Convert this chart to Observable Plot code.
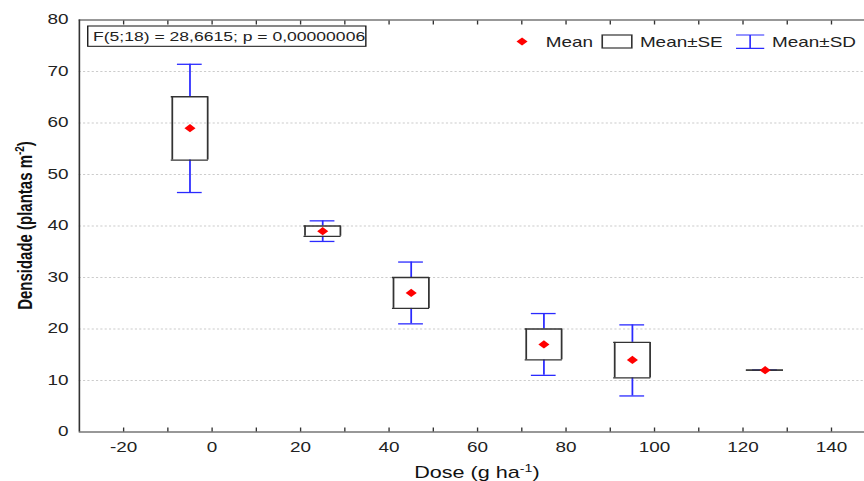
<!DOCTYPE html>
<html><head><meta charset="utf-8">
<script src="https://cdn.jsdelivr.net/npm/d3@7"></script>
<script src="https://cdn.jsdelivr.net/npm/@observablehq/plot@0.6"></script>
<style>html,body{margin:0;padding:0;background:#fff;overflow:hidden}</style>
</head><body><div id="chart"></div>
<script>
// ---- data ----
const doses  = [-5, 25, 45, 75, 95, 125];
const means  = [59, 39, 27, 17, 14, 12];
const seLow  = [52.8, 38, 24, 14, 10.5, 12];
const seHigh = [65.1, 40, 30, 20, 17.4, 12];
const sdLow  = [46.5, 37, 21, 11, 7, 12];
const sdHigh = [71.4, 41, 33, 23, 20.8, 12];

const xTickLabels = [-20, 0, 20, 40, 60, 80, 100, 120, 140];
const xMinorTicks = [-20, -10, 0, 10, 20, 30, 40, 50, 60, 70, 80, 90, 100, 110, 120, 130, 140];
const yTickLabels = [0, 10, 20, 30, 40, 50, 60, 70, 80];
const yGridLines  = [10, 20, 30, 40, 50, 60, 70];
const xDomain = [-30, 147.5];
const yDomain = [0, 80];

const annotation = "F(5;18) = 28,6615; p = 0,00000006";
const legendLabels = ["Mean", "Mean\u00B1SE", "Mean\u00B1SD"];
const xTitle = ["Dose (g ha", "-1", ")"];
const yTitle = ["Densidade (plantas m", "-2", ")"];

// ---- styling ----
const BOX = 4, CAP = 2.8;
const BLUE = "#2a2aff", DARK = "#333", RED = "#ff0000";
const W0 = 640, H = 481, FINAL_W = 864;
const DOT_R = 3.7;
const FONT = "'Liberation Sans', Arial, Helvetica, sans-serif";

const rows = doses.map((d, i) => ({
  dose: d, mean: means[i], seLow: seLow[i], seHigh: seHigh[i], sdLow: sdLow[i], sdHigh: sdHigh[i]
}));

function annotationMark(index, scales, values, dims) {
  const g = d3.create("svg:g").attr("text-anchor", "start");
  const x0 = dims.marginLeft;
  g.append("rect").attr("x", x0 + 6.7).attr("y", 26).attr("width", 206).attr("height", 20.3)
    .attr("fill", "white").attr("stroke", "#111").attr("stroke-width", 1);
  g.append("text").attr("x", x0 + 10.6).attr("y", 40.6).attr("font-size", 13)
    .attr("fill", "#222").text(annotation);
  return g.node();
}

function legendMark(index, scales, values, dims) {
  const g = d3.create("svg:g").attr("font-size", 14).attr("fill", "#222").attr("text-anchor", "start");
  const R = dims.width; // 640
  const sym = d3.symbol(d3.symbolDiamond2, Math.PI * DOT_R * DOT_R)();
  g.append("path").attr("d", sym).attr("transform", `translate(${R - 253.3},41.5)`).attr("fill", RED);
  g.append("text").attr("x", R - 235.8).attr("y", 47).text(legendLabels[0]);
  g.append("rect").attr("x", R - 193.9).attr("y", 35).attr("width", 21.9).attr("height", 13)
    .attr("fill", "none").attr("stroke", DARK).attr("stroke-width", 1.2);
  g.append("text").attr("x", R - 166).attr("y", 47).text(legendLabels[1]);
  const wx1 = R - 94.8, wx2 = R - 73.9, wm = (wx1 + wx2) / 2;
  g.append("path").attr("d", `M${wx1},35H${wx2}M${wx1},48.3H${wx2}M${wm},35V48.3`)
    .attr("fill", "none").attr("stroke", BLUE).attr("stroke-width", 1.2);
  g.append("text").attr("x", R - 68.1).attr("y", 47).text(legendLabels[2]);
  return g.node();
}

function titlesMark(index, scales, values, dims) {
  const g = d3.create("svg:g").attr("fill", "#111");
  const cx = dims.marginLeft + (scales.x(150) - dims.marginLeft) / 2; // centre of the original frame
  const xt = g.append("text").attr("x", cx).attr("y", 478).attr("text-anchor", "middle").attr("font-size", 16);
  xt.append("tspan").text(xTitle[0]);
  xt.append("tspan").attr("font-size", 10.5).attr("dy", -6).text(xTitle[1]);
  xt.append("tspan").attr("dy", 6).text(xTitle[2]);
  const cy = (dims.marginTop + dims.height - dims.marginBottom) / 2;
  const yt = g.append("text").attr("transform", `translate(24,${cy}) rotate(-90)`)
    .attr("text-anchor", "middle").attr("font-size", 15).attr("font-weight", "bold");
  yt.append("tspan").text(yTitle[0]);
  yt.append("tspan").attr("font-size", 10).attr("dy", -6).text(yTitle[1]);
  yt.append("tspan").attr("dy", 6).text(yTitle[2]);
  return g.node();
}

const svg = Plot.plot({
  width: W0, height: H,
  marginLeft: 58.3, marginRight: 0, marginTop: 19.5, marginBottom: 49.5,
  style: {fontFamily: FONT, fontSize: "14px", color: "#222", background: "white"},
  x: {domain: xDomain},
  y: {domain: yDomain},
  marks: [
    Plot.gridY(yGridLines, {stroke: "#cccccc", strokeOpacity: 1, strokeDasharray: "1.6,1.6"}),
    Plot.ruleY([0, 80], {stroke: DARK, strokeWidth: 1.2}),
    Plot.ruleX([xDomain[0]], {stroke: DARK, strokeWidth: 1.2}),
    Plot.axisX(xMinorTicks, {anchor: "bottom", tickSize: 4, dy: -4, tickFormat: () => "", label: null, stroke: DARK}),
    Plot.axisX(xMinorTicks, {anchor: "top", tickSize: 4, dy: 4, tickFormat: () => "", label: null, stroke: DARK}),
    Plot.axisX(xTickLabels, {anchor: "bottom", tickSize: 0, tickPadding: 10, fontSize: 14, label: null, tickFormat: d => String(d)}),
    Plot.axisY(yTickLabels, {anchor: "left", tickSize: 0, tickPadding: 8, fontSize: 14, label: null, tickFormat: d => String(d)}),
    // SD whiskers
    Plot.ruleX(rows, {x: "dose", y1: "sdLow", y2: "seLow", stroke: BLUE, strokeWidth: 1.3}),
    Plot.ruleX(rows, {x: "dose", y1: "seHigh", y2: "sdHigh", stroke: BLUE, strokeWidth: 1.3}),
    Plot.ruleY(rows, {y: "sdHigh", x1: d => d.dose - CAP, x2: d => d.dose + CAP, stroke: BLUE, strokeWidth: 1.3}),
    Plot.ruleY(rows, {y: "sdLow", x1: d => d.dose - CAP, x2: d => d.dose + CAP, stroke: BLUE, strokeWidth: 1.3}),
    // SE boxes
    Plot.ruleY(rows, {y: "seHigh", x1: d => d.dose - BOX, x2: d => d.dose + BOX, stroke: DARK, strokeWidth: 1.3, strokeLinecap: "square"}),
    Plot.ruleY(rows, {y: "seLow", x1: d => d.dose - BOX, x2: d => d.dose + BOX, stroke: DARK, strokeWidth: 1.3, strokeLinecap: "square"}),
    Plot.ruleX(rows, {x: d => d.dose - BOX, y1: "seLow", y2: "seHigh", stroke: DARK, strokeWidth: 1.3}),
    Plot.ruleX(rows, {x: d => d.dose + BOX, y1: "seLow", y2: "seHigh", stroke: DARK, strokeWidth: 1.3}),
    // means
    Plot.dot(rows, {x: "dose", y: "mean", symbol: "diamond2", fill: RED, stroke: null, r: DOT_R}),
    annotationMark,
    legendMark,
    titlesMark
  ]
});

// the reference is horizontally stretched: reproduce by scaling the drawing
svg.setAttribute("width", FINAL_W);
svg.setAttribute("height", H);
svg.setAttribute("viewBox", `0 0 ${W0} ${H}`);
svg.setAttribute("preserveAspectRatio", "none");
svg.style.width = FINAL_W + "px";
svg.style.height = H + "px";
svg.style.maxWidth = "none";
document.getElementById("chart").appendChild(svg);
</script>
</body></html>
